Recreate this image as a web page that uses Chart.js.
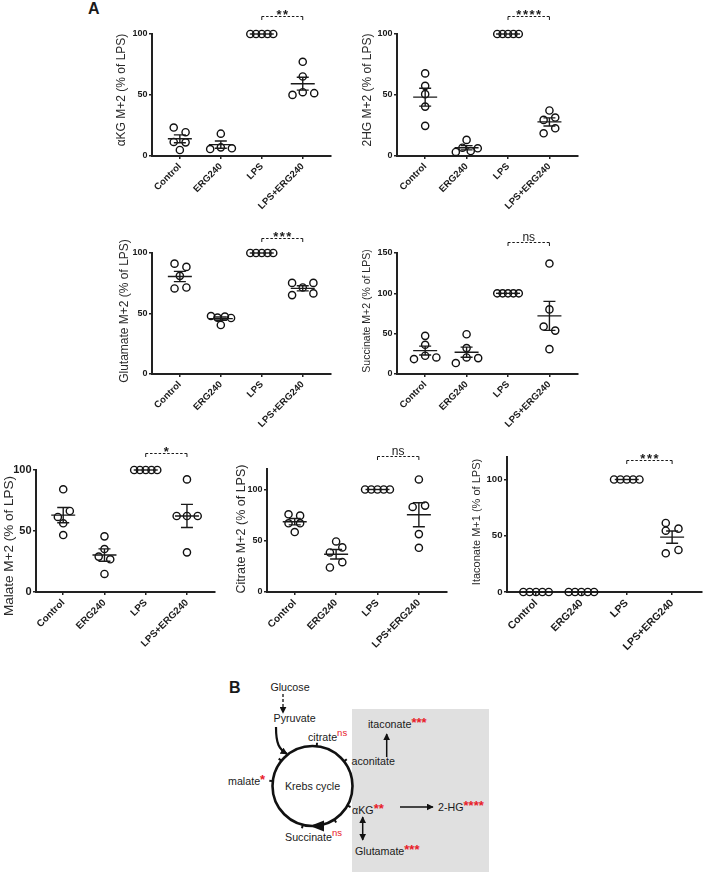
<!DOCTYPE html>
<html>
<head>
<meta charset="utf-8">
<script src="https://cdn.jsdelivr.net/npm/chart.js@4.4.1/dist/chart.umd.min.js"></script>
<style>
  body { margin: 0; background: #fff; }
  #wrap { position: relative; width: 708px; height: 872px; overflow: hidden; font-family: "Liberation Sans", Arial, sans-serif; }
  #wrap canvas { position: absolute; }
  #diagram { position: absolute; left: 0; top: 0; }
</style>
</head>
<body>
<div id="wrap">
<svg id="diagram" width="708" height="872" font-family="Liberation Sans, Arial, sans-serif" font-size="10.7" fill="#1a1a1a">
  <defs>
    <marker id="ah" viewBox="0 0 10 10" refX="9" refY="5" markerWidth="7" markerHeight="7" markerUnits="userSpaceOnUse" orient="auto-start-reverse">
      <path d="M0,0 L10,5 L0,10 z" fill="#111"/>
    </marker>
  </defs>
  <text x="88" y="13.5" font-weight="bold" font-size="16">A</text>
  <rect x="352" y="709" width="137" height="170" fill="#e0e0e0"/>
  <text x="229" y="693" font-weight="bold" font-size="16">B</text>
  <text x="290" y="691" text-anchor="middle">Glucose</text>
  <line x1="283" y1="694" x2="283" y2="713" stroke="#111" stroke-width="1.3" stroke-dasharray="3,2" marker-end="url(#ah)"/>
  <text x="273.5" y="722">Pyruvate</text>
  <path d="M276,727 C276,744 279,749 287,754" fill="none" stroke="#111" stroke-width="2.2" marker-end="url(#ah)"/>
  <circle cx="312.5" cy="786" r="40" fill="none" stroke="#111" stroke-width="2.6"/>
  <g id="cycleTicks" stroke="#111" stroke-width="2"></g>
  <polygon points="310,826 324,820.5 324,831.5" fill="#111"/>
  <text x="312.5" y="789.5" text-anchor="middle">Krebs cycle</text>
  <text x="308" y="741">citrate<tspan dy="-5" font-size="9.5" fill="#e8202a">ns</tspan></text>
  <text x="368" y="728">itaconate<tspan dy="-1" font-size="13" font-weight="bold" fill="#e8202a">***</tspan></text>
  <line x1="386.7" y1="757" x2="386.7" y2="734" stroke="#111" stroke-width="1.5" marker-end="url(#ah)"/>
  <text x="351.5" y="765">aconitate</text>
  <text x="228" y="785">malate<tspan dy="-1" font-size="13" font-weight="bold" fill="#e8202a">*</tspan></text>
  <text x="352" y="814">αKG<tspan dy="-1" font-size="13" font-weight="bold" fill="#e8202a">**</tspan></text>
  <line x1="400" y1="807" x2="433" y2="807" stroke="#111" stroke-width="1.5" marker-end="url(#ah)"/>
  <text x="438" y="811">2-HG<tspan dy="-1" font-size="13" font-weight="bold" fill="#e8202a">****</tspan></text>
  <line x1="362.7" y1="817" x2="362.7" y2="840" stroke="#111" stroke-width="1.5" marker-start="url(#ah)" marker-end="url(#ah)"/>
  <text x="355" y="855">Glutamate<tspan dy="-1" font-size="13" font-weight="bold" fill="#e8202a">***</tspan></text>
  <text x="285" y="841">Succinate<tspan dy="-5" font-size="9.5" fill="#e8202a">ns</tspan></text>
</svg>
</div>
<script>
const groups = ["Control", "ERG240", "LPS", "LPS+ERG240"];

// values per group (Control, ERG240, LPS, LPS+ERG240), % of LPS
const akgValues = [[23.3, 19.5, 11.5, 11.2, 4.9], [18.3, 5.7, 7.1, 6.3], [100, 100, 100, 100, 100], [77.2, 65.2, 50.1, 52.3, 51.5]];
const hgValues = [[67.7, 57.5, 50.7, 40.5, 24.7], [3.3, 13.2, 6.8, 4.1, 6.3], [100, 100, 100, 100, 100], [37.3, 29.6, 31.5, 18.6, 22.7]];
const gluValues = [[91.2, 88.5, 81.1, 70.7, 71.5], [47.9, 46.6, 47.4, 46.3, 40.5], [100, 100, 100, 100, 100], [75.3, 65.2, 71.5, 75.3, 66.6]];
const sucValues = [[18.5, 47.3, 36.2, 22.6, 20.5], [13.6, 49.3, 32.1, 20.5, 19.7], [100, 100, 100, 100, 100], [136.9, 80.1, 58.8, 53.8, 30.8]];
const malValues = [[84.2, 61.5, 66.4, 56.3, 46.7], [45.6, 35.2, 29.0, 26.8, 14.8], [100, 100, 100, 100, 100], [92.3, 62.3, 62.3, 62.3, 32.5]];
const citValues = [[75.8, 74.5, 67.0, 67.0, 58.5], [49.3, 43.5, 38.6, 29.1, 23.9], [100, 100, 100, 100, 100], [109.8, 83, 84.3, 56.5, 43.1]];
const itaValues = [[0, 0, 0, 0, 0], [0, 0, 0, 0, 0], [100, 100, 100, 100, 100], [61.4, 54.5, 56.3, 34.4, 37.4]];

// horizontal scatter of the dots within each group (in category units)
const akgJitter = [[-0.15, 0.14, -0.15, 0.14, 0], [0, -0.26, 0, 0.27], [-0.28, -0.14, 0, 0.14, 0.28], [0, 0, -0.25, 0, 0.28]];
const hgJitter = [[0, 0, 0, 0, 0], [-0.26, 0, -0.1, 0.1, 0.27], [-0.26, -0.13, 0, 0.13, 0.26], [0, -0.14, 0.14, -0.14, 0.14]];
const gluJitter = [[-0.13, 0.16, 0, -0.13, 0.16], [-0.24, -0.08, 0.1, 0.25, 0], [-0.28, -0.14, 0, 0.14, 0.28], [-0.26, -0.26, 0, 0.26, 0.26]];
const sucJitter = [[-0.27, 0, 0, 0, 0.27], [-0.26, 0, 0, 0, 0.28], [-0.26, -0.13, 0, 0.13, 0.26], [0, 0, -0.14, 0.14, 0]];
const malJitter = [[0, -0.13, 0.16, 0, 0], [0, 0, -0.14, 0.14, 0], [-0.28, -0.14, 0, 0.14, 0.28], [0, -0.25, 0, 0.26, 0]];
const citJitter = [[-0.15, 0.13, -0.15, 0.13, 0], [0, 0.15, -0.15, 0.15, -0.15], [-0.3, -0.15, 0, 0.15, 0.3], [0, -0.15, 0.15, 0, 0]];
const itaJitter = [[-0.28, -0.14, 0, 0.14, 0.28], [-0.28, -0.14, 0, 0.14, 0.28], [-0.28, -0.14, 0, 0.14, 0.28], [-0.14, -0.14, 0.14, -0.14, 0.14]];

// significance LPS vs LPS+ERG240
const sigLabels = ["**", "****", "***", "ns", "*", "ns", "***"];
const sigLevels = [114.5, 114.5, 112.6, 163.5, 114.2, 132.6, 117.6];

// layout: box = [left, top, width, height] of each canvas; titleAt = y-title centre on the page
const panels = [
  { title: "αKG M+2 (% of LPS)", values: akgValues, jitter: akgJitter, yMax: 100, titleSize: 12, titleAt: [121.7, 90], box: [114, 0, 222, 216], yWidth: 38, padTop: 34, xMin: -0.68, xMax: 3.68, xFont: 9.5, yFont: 9 },
  { title: "2HG M+2 (% of LPS)", values: hgValues, jitter: hgJitter, yMax: 100, titleSize: 12, titleAt: [368, 90], box: [361, 0, 222, 216], yWidth: 36, padTop: 34, xMin: -0.68, xMax: 3.68, xFont: 9.5, yFont: 9 },
  { title: "Glutamate M+2 (% of LPS)", values: gluValues, jitter: gluJitter, yMax: 100, titleSize: 12, titleAt: [125, 311], box: [118, 212, 218, 222], yWidth: 34, padTop: 41, xMin: -0.68, xMax: 3.68, xFont: 9.5, yFont: 9 },
  { title: "Succinate M+2 (% of LPS)", values: sucValues, jitter: sucJitter, yMax: 150, titleSize: 10.5, titleAt: [366.7, 311], box: [360, 212, 223, 222], yWidth: 37, padTop: 41, xMin: -0.68, xMax: 3.68, xFont: 9.5, yFont: 9 },
  { title: "Malate M+2 (% of LPS)", values: malValues, jitter: malJitter, yMax: 100, titleSize: 13.5, titleAt: [9.5, 546], box: [1, 430, 219, 222], yWidth: 35, padTop: 40, xMin: -0.66, xMax: 3.67, xFont: 9.8, yFont: 11 },
  { title: "Citrate M+2 (% of LPS)", values: citValues, jitter: citJitter, yMax: 120, titleSize: 12.5, titleAt: [241.7, 529], box: [234, 430, 218, 222], yWidth: 33, padTop: 39, xMin: -0.67, xMax: 3.67, xFont: 10, yFont: 9 },
  { title: "Itaconate M+1 (% of LPS)", values: itaValues, jitter: itaJitter, yMax: 120, titleSize: 11, titleAt: [477.3, 522], box: [471, 430, 236, 222], yWidth: 36, padTop: 27, xMin: -0.64, xMax: 3.65, xFont: 10.5, yFont: 9.6 }
];

Chart.defaults.font.family = "'Liberation Sans', Arial, sans-serif";

const statsPlugin = {
  id: "groupStats",
  afterDatasetsDraw(chart, args, opts) {
    const ctx = chart.ctx;
    const xs = chart.scales.x, ys = chart.scales.y;
    ctx.save();
    ctx.strokeStyle = "#1a1a1a";
    ctx.lineWidth = 1.4;
    opts.values.forEach((vals, i) => {
      const n = vals.length;
      const mean = vals.reduce((a, b) => a + b, 0) / n;
      const sd = Math.sqrt(vals.reduce((a, b) => a + (b - mean) ** 2, 0) / (n - 1));
      const err = sd / Math.sqrt(n);
      const cx = xs.getPixelForValue(i);
      const my = ys.getPixelForValue(mean);
      const hi = ys.getPixelForValue(mean + err);
      const lo = ys.getPixelForValue(mean - err);
      ctx.beginPath();
      ctx.moveTo(cx - 12, my); ctx.lineTo(cx + 12, my);
      if (err > 0) {
        ctx.moveTo(cx, hi); ctx.lineTo(cx, lo);
        ctx.moveTo(cx - 6, hi); ctx.lineTo(cx + 6, hi);
        ctx.moveTo(cx - 6, lo); ctx.lineTo(cx + 6, lo);
      }
      ctx.stroke();
    });
    // bracket between LPS and LPS+ERG240
    const x1 = xs.getPixelForValue(2), x2 = xs.getPixelForValue(3);
    const by = Math.round(ys.getPixelForValue(opts.sigAt)) + 0.5;
    ctx.lineWidth = 1;
    ctx.setLineDash([2.5, 1.8]);
    ctx.beginPath(); ctx.moveTo(x1, by); ctx.lineTo(x2, by); ctx.stroke();
    ctx.setLineDash([]);
    ctx.beginPath();
    ctx.moveTo(x1, by); ctx.lineTo(x1, by + 3.5);
    ctx.moveTo(x2, by); ctx.lineTo(x2, by + 3.5);
    ctx.stroke();
    ctx.fillStyle = "#1a1a1a";
    ctx.textAlign = "center";
    if (opts.sig === "ns") {
      ctx.font = "12px 'Liberation Sans', Arial";
      ctx.fillText("ns", (x1 + x2) / 2, by - 2);
    } else {
      ctx.font = "bold 13px 'Liberation Sans', Arial";
      ctx.letterSpacing = "1.5px";
      ctx.fillText(opts.sig, (x1 + x2) / 2 + 0.75, by + 2);
    }
    ctx.restore();
  },
  afterDraw(chart, args, opts) {
    // y-axis title, rotated, centred where the figure has it
    const ctx = chart.ctx;
    ctx.save();
    ctx.translate(opts.titleX, opts.titleY);
    ctx.rotate(-Math.PI / 2);
    ctx.font = opts.titleSize + "px 'Liberation Sans', Arial";
    ctx.fillStyle = "#2a2a2a";
    ctx.textAlign = "center";
    ctx.textBaseline = "middle";
    ctx.fillText(opts.title, 0, 0);
    ctx.restore();
  }
};

const wrap = document.getElementById("wrap");

panels.forEach((p, k) => {
  const [left, top, w, h] = p.box;
  const cv = document.createElement("canvas");
  cv.width = w; cv.height = h;
  cv.style.left = left + "px"; cv.style.top = top + "px";
  cv.style.width = w + "px"; cv.style.height = h + "px";
  wrap.appendChild(cv);

  const points = [];
  p.values.forEach((vals, i) => vals.forEach((v, j) => points.push({ x: i + p.jitter[i][j], y: v })));

  const axisGrid = { drawOnChartArea: false, drawTicks: true, tickLength: 3, color: "#222", lineWidth: 1.5 };
  const axisBorder = { color: "#222", width: 2 };

  new Chart(cv, {
    type: "scatter",
    data: {
      datasets: [{
        data: points,
        pointRadius: 3.6,
        pointBorderWidth: 1.4,
        pointBorderColor: "#111",
        pointBackgroundColor: "rgba(0,0,0,0)",
        clip: false
      }]
    },
    options: {
      responsive: false,
      animation: false,
      layout: { padding: { top: p.padTop, right: 1, left: 0, bottom: 0 } },
      plugins: {
        legend: { display: false },
        tooltip: { enabled: false },
        groupStats: {
          values: p.values, sig: sigLabels[k], sigAt: sigLevels[k],
          title: p.title, titleSize: p.titleSize, titleX: p.titleAt[0] - left, titleY: p.titleAt[1] - top
        }
      },
      scales: {
        x: {
          type: "linear",
          min: p.xMin,
          max: p.xMax,
          afterBuildTicks: s => { s.ticks = groups.map((g, i) => ({ value: i })); },
          ticks: {
            callback: v => groups[v],
            autoSkip: false,
            minRotation: 45,
            maxRotation: 45,
            padding: 2,
            color: "#1a1a1a",
            font: { size: p.xFont, weight: "bold" }
          },
          grid: axisGrid,
          border: axisBorder,
          afterFit: s => { s.height = 60; s.paddingLeft = 0; s.paddingRight = 0; }
        },
        y: {
          min: 0,
          max: p.yMax,
          ticks: {
            stepSize: 50,
            includeBounds: false,
            padding: 1.5,
            color: "#1a1a1a",
            font: { size: p.yFont, weight: "bold" }
          },
          grid: axisGrid,
          border: axisBorder,
          afterFit: s => { s.width = p.yWidth; s.paddingTop = 0; s.paddingBottom = 0; }
        }
      }
    },
    plugins: [statsPlugin]
  });
});

// small marks on the Krebs cycle ring
const cycleAngles = [-84, -38, 29, 57, 104, 187, 219];
const tickGroup = document.getElementById("cycleTicks");
cycleAngles.forEach(a => {
  const r = a * Math.PI / 180;
  const ln = document.createElementNS("http://www.w3.org/2000/svg", "line");
  ln.setAttribute("x1", 312.5 + 40 * Math.cos(r));
  ln.setAttribute("y1", 786 + 40 * Math.sin(r));
  ln.setAttribute("x2", 312.5 + 43.5 * Math.cos(r));
  ln.setAttribute("y2", 786 + 43.5 * Math.sin(r));
  tickGroup.appendChild(ln);
});
</script>
</body>
</html>
